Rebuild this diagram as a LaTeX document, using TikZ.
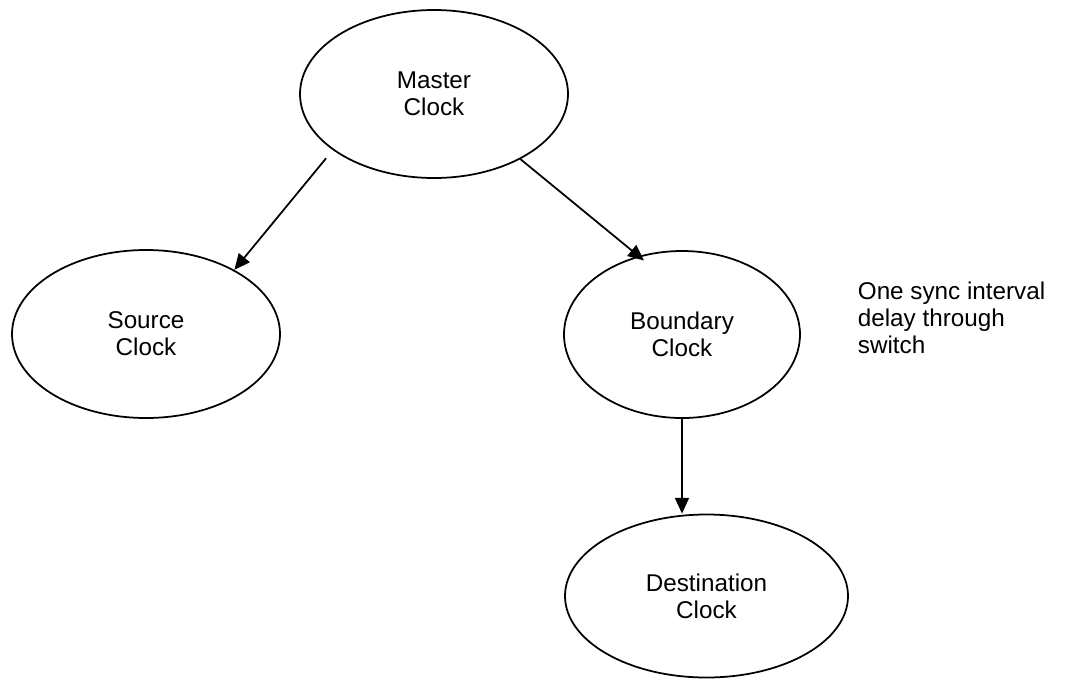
\documentclass[tikz,border=0pt]{standalone}
\usepackage{fontspec}
\setmainfont{Liberation Sans}
\usetikzlibrary{shapes.geometric,arrows.meta}

\begin{document}
\begin{tikzpicture}[
  line width=1pt,  clock/.style={ellipse,draw,inner sep=0pt,align=center,font=\fontsize{13.8}{15.3}\selectfont},  link/.style={-{Triangle[length=9pt,width=8pt]}}
]
  \useasboundingbox (0,0) rectangle (21.32,-13.64);
  \node[clock,minimum width=5.36cm,minimum height=3.36cm] (master) at (8.68,-1.88) {Master\\Clock};
  \node[clock,minimum width=5.36cm,minimum height=3.36cm] (source) at (2.92,-6.68) {Source\\Clock};
  \node[clock,minimum width=4.72cm,minimum height=3.34cm] (boundary) at (13.64,-6.69) {Boundary\\Clock};
  \node[clock,minimum width=5.66cm,minimum height=3.26cm] (dest) at (14.13,-11.92) {Destination\\Clock};
  \node[anchor=west,align=left,inner sep=0pt,font=\fontsize{13.8}{15.3}\selectfont] (note) at (17.14,-6.36) {One sync interval\\delay through\\switch};
  \draw[link,shorten <=6pt] (master.209) -- (source.36);
  \draw[link,shorten >=-4pt] (master.323) -- (boundary.119);
  \draw[link] (boundary.south) -- (boundary.south |- dest.north);
\end{tikzpicture}
\end{document}
